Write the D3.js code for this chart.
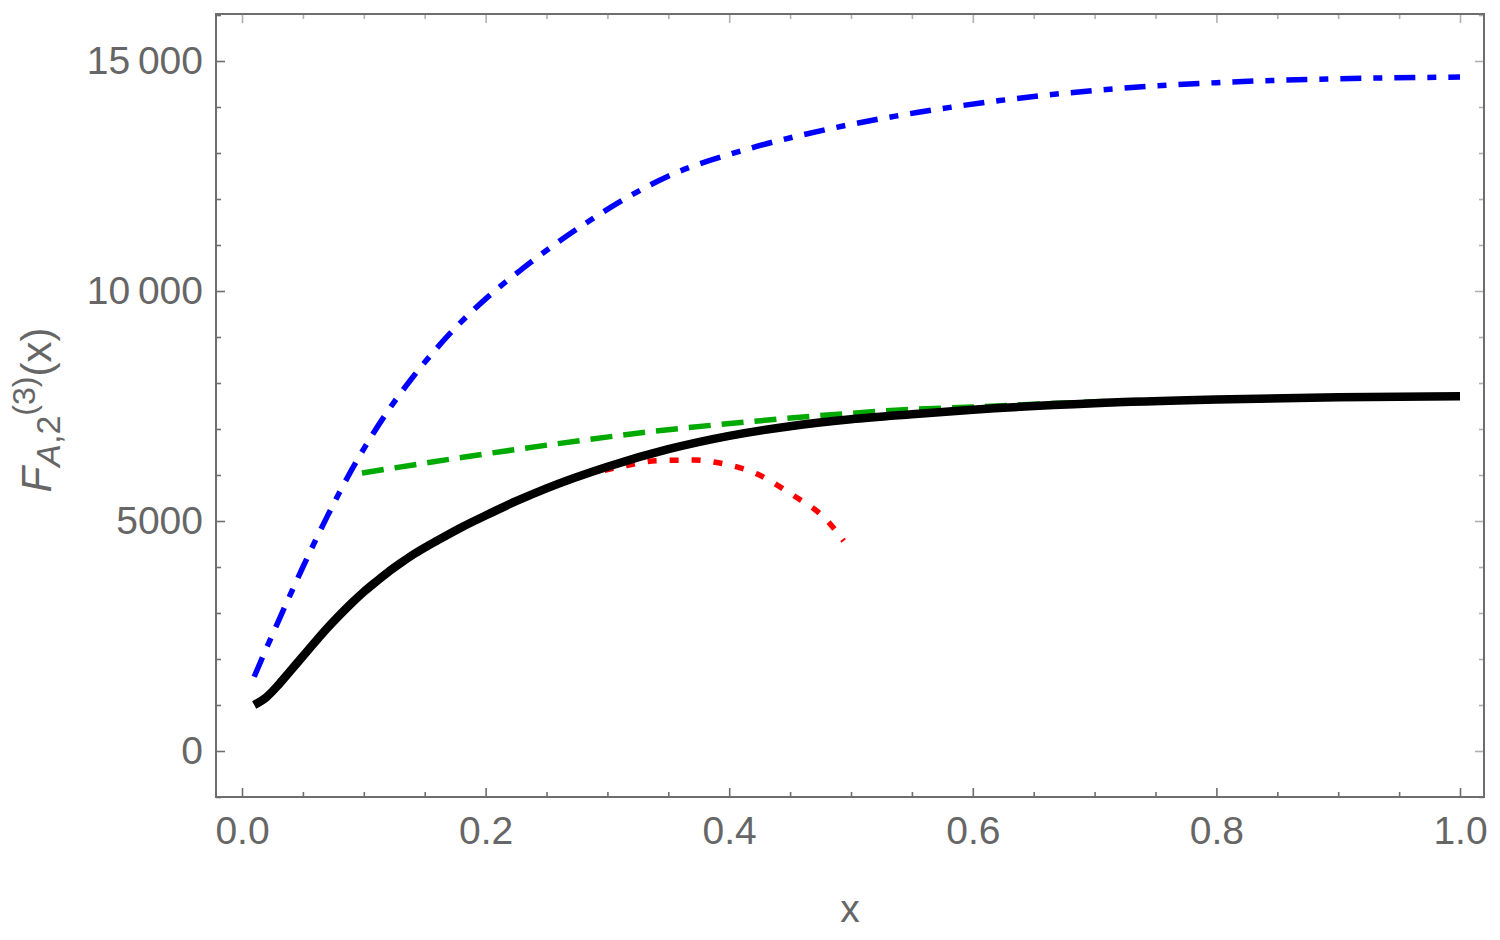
<!DOCTYPE html>
<html>
<head>
<meta charset="utf-8">
<script src="https://cdn.jsdelivr.net/npm/d3@7"></script>
<style>
  body { margin: 0; background: #fff; }
  text { font-family: "Liberation Sans", Arial, sans-serif; }
</style>
</head>
<body>
<div id="chart"></div>
<script>
// values
const blackX = [0.01, 0.02, 0.03, 0.04, 0.05, 0.06, 0.07, 0.08, 0.09, 0.1, 0.11, 0.12, 0.13, 0.14, 0.15, 0.16, 0.18, 0.2, 0.225, 0.25, 0.3, 0.35, 0.4, 0.45, 0.5, 0.55, 0.6, 0.7, 0.8, 0.9, 1.0];
const blackY = [1000, 1170, 1440, 1750, 2060, 2370, 2670, 2950, 3215, 3460, 3680, 3890, 4080, 4260, 4420, 4570, 4860, 5120, 5430, 5710, 6180, 6560, 6850, 7060, 7210, 7320, 7420, 7560, 7640, 7690, 7710];

const blueX = [0.01, 0.02, 0.03, 0.04, 0.05, 0.06, 0.07, 0.08, 0.09, 0.1, 0.12, 0.14, 0.16, 0.18, 0.2, 0.23, 0.28, 0.349, 0.417, 0.485, 0.554, 0.622, 0.7, 0.8, 0.9, 1.0];
const blueY = [1615, 2230, 2830, 3420, 4000, 4560, 5100, 5620, 6110, 6570, 7400, 8120, 8760, 9330, 9830, 10480, 11435, 12485, 13100, 13540, 13880, 14140, 14360, 14530, 14615, 14650];

const greenX = [0.0985, 0.18, 0.261, 0.335, 0.417, 0.499, 0.54, 0.6, 0.7, 0.8, 0.9, 1.0];
const greenY = [6043, 6380, 6688, 6940, 7159, 7340, 7413, 7480, 7590, 7660, 7700, 7720];

const redX = [0.28, 0.308, 0.34, 0.371, 0.39, 0.423, 0.45, 0.48, 0.494];
const redY = [6000, 6160, 6310, 6326, 6270, 6020, 5600, 5020, 4565];

const xMajor = [0, 0.2, 0.4, 0.6, 0.8, 1.0];
const yMajor = [0, 5000, 10000, 15000];

const W = 1500, H = 940;
const mLeft = 216, mRight = 1484, mTop = 14, mBottom = 797;

const x = d3.scaleLinear().domain([-0.02135, 1.0197]).range([mLeft, mRight]);
const y = d3.scaleLinear().domain([-1000, 16022]).range([mBottom, mTop]);

const xMinor = d3.range(0, 1.0001, 0.05).filter(v => Math.abs(v * 5 - Math.round(v * 5)) > 1e-6);
const yMinor = d3.range(-1000, 16001, 1000).filter(v => v % 5000 !== 0);

const svg = d3.select("#chart").append("svg")
  .attr("width", W)
  .attr("height", H);

const fmtY = (v) => v >= 10000 ? String(v).slice(0, -3) + "\u2009" + String(v).slice(-3) : String(v);

const axisColor = "#6e6e6e";
const lightColor = "#b0b0b0";

function styleAxis(g, color) {
  g.select(".domain").remove();
  g.selectAll("line").attr("stroke", color).attr("stroke-width", 1.6);
  g.selectAll("text")
    .attr("fill", "#666")
    .style("font-size", "39px");
}

// bottom axis
svg.append("g")
  .attr("transform", `translate(0,${mBottom})`)
  .call(d3.axisBottom(x).tickValues(xMajor).tickSize(-9).tickPadding(19).tickFormat(d3.format(".1f")))
  .call(g => styleAxis(g, axisColor));
svg.append("g")
  .attr("transform", `translate(0,${mBottom})`)
  .call(d3.axisBottom(x).tickValues(xMinor).tickSize(-5).tickFormat(""))
  .call(g => styleAxis(g, axisColor));

// top axis
svg.append("g")
  .attr("transform", `translate(0,${mTop})`)
  .call(d3.axisTop(x).tickValues(xMajor).tickSize(-9).tickFormat(""))
  .call(g => styleAxis(g, lightColor));
svg.append("g")
  .attr("transform", `translate(0,${mTop})`)
  .call(d3.axisTop(x).tickValues(xMinor).tickSize(-5).tickFormat(""))
  .call(g => styleAxis(g, lightColor));

// left axis
svg.append("g")
  .attr("transform", `translate(${mLeft},0)`)
  .call(d3.axisLeft(y).tickValues(yMajor).tickSize(-9).tickPadding(13).tickFormat(fmtY))
  .call(g => styleAxis(g, axisColor));
svg.append("g")
  .attr("transform", `translate(${mLeft},0)`)
  .call(d3.axisLeft(y).tickValues(yMinor).tickSize(-5).tickFormat(""))
  .call(g => styleAxis(g, axisColor));

// right axis
svg.append("g")
  .attr("transform", `translate(${mRight},0)`)
  .call(d3.axisRight(y).tickValues(yMajor).tickSize(-9).tickFormat(""))
  .call(g => styleAxis(g, lightColor));
svg.append("g")
  .attr("transform", `translate(${mRight},0)`)
  .call(d3.axisRight(y).tickValues(yMinor).tickSize(-5).tickFormat(""))
  .call(g => styleAxis(g, lightColor));

// frame
svg.append("rect")
  .attr("x", mLeft)
  .attr("y", mTop)
  .attr("width", mRight - mLeft)
  .attr("height", mBottom - mTop)
  .attr("fill", "none")
  .attr("stroke", axisColor)
  .attr("stroke-width", 2);

svg.append("clipPath").attr("id", "plotClip")
  .append("rect")
  .attr("x", mLeft).attr("y", mTop)
  .attr("width", mRight - mLeft).attr("height", mBottom - mTop);

const line = d3.line()
  .x(d => x(d[0]))
  .y(d => y(d[1]))
  .curve(d3.curveMonotoneX);

const plot = svg.append("g").attr("clip-path", "url(#plotClip)");

const series = [
  { xs: greenX, ys: greenY, color: "#00aa00", width: 5.5, dash: "22,11" },
  { xs: redX, ys: redY, color: "#ff0000", width: 5.5, dash: "9,13" },
  { xs: blackX, ys: blackY, color: "#000000", width: 8.5, dash: null },
  { xs: blueX, ys: blueY, color: "#0000ff", width: 5.5, dash: "21,12,9,12" },
];

series.forEach(s => {
  plot.append("path")
    .datum(s.xs.map((v, i) => [v, s.ys[i]]))
    .attr("d", line)
    .attr("fill", "none")
    .attr("stroke", s.color)
    .attr("stroke-width", s.width)
    .attr("stroke-dasharray", s.dash)
    .attr("stroke-linejoin", "round");
});

// axis labels
svg.append("text")
  .attr("x", 850)
  .attr("y", 922)
  .attr("text-anchor", "middle")
  .attr("fill", "#666")
  .style("font-size", "39px")
  .text("x");

const yl = svg.append("text")
  .attr("transform", "translate(51,410) rotate(-90)")
  .attr("text-anchor", "middle")
  .attr("fill", "#666")
  .style("font-size", "42px");
yl.append("tspan").style("font-style", "italic").text("F");
yl.append("tspan").attr("dy", 9).style("font-size", "34px").style("font-style", "italic").text("A");
yl.append("tspan").style("font-size", "34px").text(",2");
yl.append("tspan").attr("dy", -25).style("font-size", "32px").text("(3)");
yl.append("tspan").attr("dy", 16).text("(x)");
</script>
</body>
</html>
